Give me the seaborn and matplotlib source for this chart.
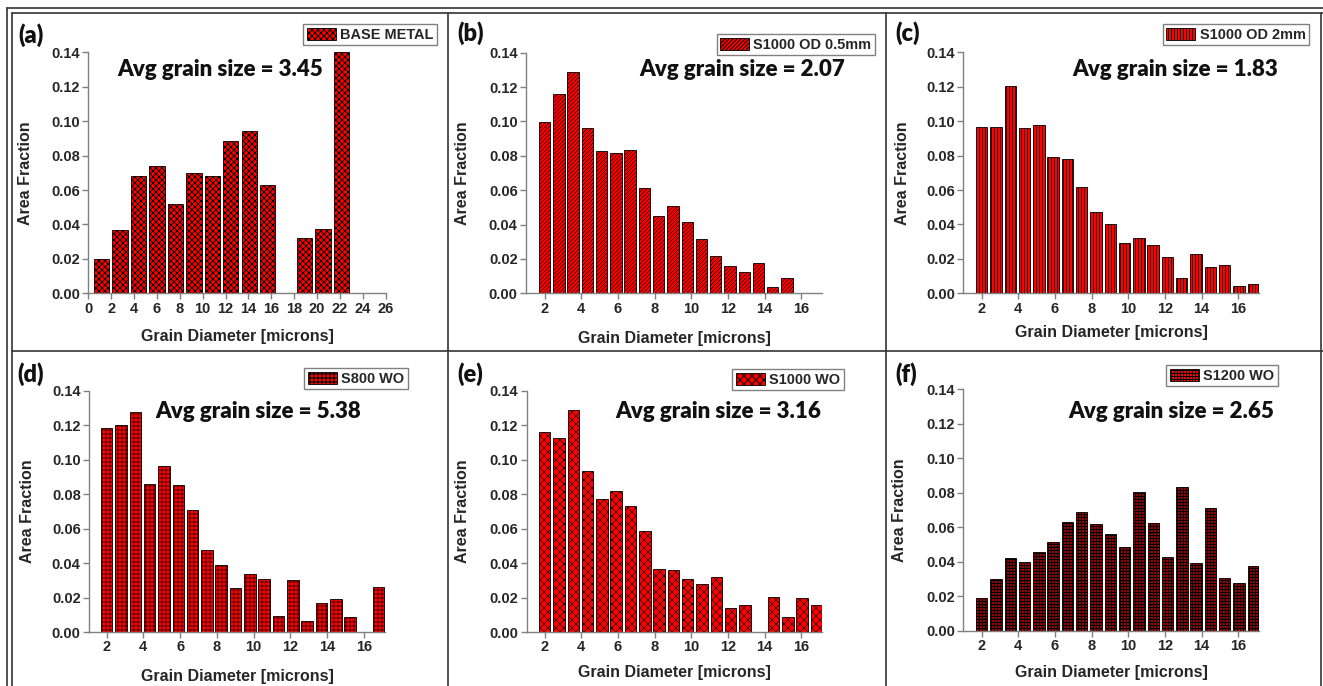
import matplotlib
matplotlib.use("Agg")
import matplotlib.pyplot as plt
import numpy as np
import pandas as pd
import seaborn as sns
from matplotlib.patches import Patch
from matplotlib.lines import Line2D

# ---------------- data ----------------
# grain diameter bin centres (microns)
diam_base = [1.17, 2.78, 4.39, 6.01, 7.62, 9.23, 10.84, 12.45, 14.07, 15.68,
             17.29, 18.90, 20.51, 22.13]
diam_od05 = [2.00, 2.78, 3.55, 4.33, 5.11, 5.89, 6.66, 7.44, 8.22, 8.99,
             9.77, 10.55, 11.32, 12.10, 12.88, 13.66, 14.43, 15.21]
diam_fine = [2.00, 2.78, 3.56, 4.34, 5.12, 5.90, 6.68, 7.46, 8.24, 9.02,
             9.80, 10.58, 11.36, 12.14, 12.92, 13.70, 14.48, 15.26, 16.04, 16.82]

# area fraction per bin
frac_base = [0.020, 0.037, 0.068, 0.074, 0.052, 0.070, 0.068, 0.0885, 0.0945,
             0.063, 0.0, 0.032, 0.0376, 0.140]
frac_od05 = [0.0997, 0.116, 0.129, 0.096, 0.0828, 0.0818, 0.0836, 0.0613,
             0.0448, 0.051, 0.0415, 0.0314, 0.0217, 0.0161, 0.0126, 0.0178,
             0.0039, 0.0089]
frac_od2 = [0.0968, 0.0968, 0.1204, 0.0958, 0.098, 0.0792, 0.078, 0.0616,
            0.0471, 0.0405, 0.029, 0.0321, 0.0279, 0.0209, 0.0091, 0.0228,
            0.0153, 0.0167, 0.0045, 0.0052]
frac_s800 = [0.1185, 0.1199, 0.1278, 0.0857, 0.0963, 0.0853, 0.071, 0.0476,
             0.0387, 0.0255, 0.0335, 0.0307, 0.0095, 0.0302, 0.0062, 0.017,
             0.0193, 0.0087, 0.0, 0.0263]
frac_s1000 = [0.1164, 0.1125, 0.129, 0.0933, 0.0773, 0.0821, 0.0732, 0.0585,
              0.0368, 0.0358, 0.0308, 0.0277, 0.032, 0.0137, 0.0155, 0.0,
              0.0201, 0.0087, 0.0198, 0.0159]
frac_s1200 = [0.0188, 0.0302, 0.042, 0.0398, 0.0456, 0.0512, 0.063, 0.0686,
              0.0617, 0.0563, 0.0485, 0.0806, 0.0623, 0.0427, 0.0833, 0.0391,
              0.0712, 0.0306, 0.0275, 0.0373]

panel_tags = ["(a)", "(b)", "(c)", "(d)", "(e)", "(f)"]
sample_names = ["BASE METAL", "S1000 OD 0.5mm", "S1000 OD 2mm",
                "S800 WO", "S1000 WO", "S1200 WO"]
avg_sizes = ["3.45", "2.07", "1.83", "5.38", "3.16", "2.65"]
y_ticks = [0.00, 0.02, 0.04, 0.06, 0.08, 0.10, 0.12, 0.14]
x_ticks_base = [0, 2, 4, 6, 8, 10, 12, 14, 16, 18, 20, 22, 24, 26]
x_ticks_fine = [2, 4, 6, 8, 10, 12, 14, 16]

diams = [diam_base, diam_od05, diam_fine, diam_fine, diam_fine, diam_fine]
fracs = [frac_base, frac_od05, frac_od2, frac_s800, frac_s1000, frac_s1200]

# ---------------- layout / style ----------------
W, H = 1323, 686
DPI = 72            # hatch cell = 72 px, so hatch spacing lands on whole pixels
K = 100 / DPI       # sizes below are given for a 100-dpi canvas

sns.set_theme(style="white")
plt.rcParams["font.family"] = ["Liberation Sans", "DejaVu Sans"]
plt.rcParams["hatch.color"] = "black"

hatches = ["xxxx", "//////", "||||", "+++", "xxx", "++++"]
hatch_lw = [0.9, 0.6, 0.8, 0.6, 0.6, 1.4]
# axes boxes in pixels: left, top, right, bottom
boxes = [(88.3, 52.3, 385.7, 293.3), (526, 52.7, 822.3, 293.3),
         (963.3, 52.3, 1259.3, 293.3), (89, 390.7, 385, 632),
         (526.7, 391, 822.3, 632), (963.3, 389.3, 1259, 630.7)]
xlims = [(0, 26), (0.98, 17.14), (1.0, 17.15), (1.04, 17.16),
         (1.02, 17.14), (1.0, 17.13)]
bar_width = [0.83, 0.8, 0.8, 0.8, 0.8, 0.8]
tag_pos = [(30.7, 34.7), (470.8, 33), (907.5, 33), (30.7, 374), (470, 374), (905.7, 374)]
avg_pos = [(220, 70), (742.5, 69), (1175.3, 69), (258, 411), (718.5, 411), (1171.7, 411.7)]
# legend upper-right corner in pixels
leg_pos = [(437, 24), (875, 34), (1309, 24), (408, 368), (844, 369), (1278, 365)]
xlabel_y = [337, 338, 333, 677, 672, 673]
ylabel_x = [26, 462.7, 902.7, 28, 462.7, 899]

fig = plt.figure(figsize=(W / DPI, H / DPI), dpi=DPI)
fig.patch.set_facecolor("white")

def fx(x):
    return x / W

def fy(y):
    return 1 - y / H

grey = "#808080"
for i in range(6):
    l, t, r, b = boxes[i]
    ax = fig.add_axes([fx(l), fy(b), fx(r) - fx(l), fy(t) - fy(b)])
    df = pd.DataFrame({"diameter": diams[i], "fraction": fracs[i]})
    df = df[df["fraction"] > 0]
    with plt.rc_context({"hatch.linewidth": hatch_lw[i]}):
        sns.barplot(data=df, x="diameter", y="fraction", native_scale=True,
                    errorbar=None, color="red", saturation=1, width=bar_width[i],
                    edgecolor="black", linewidth=0.6 * K, hatch=hatches[i], ax=ax)
        handle = Patch(facecolor="red", edgecolor="black", hatch=hatches[i],
                       linewidth=0.6 * K)
    ax.set_facecolor("white")
    ax.set_xlim(*xlims[i])
    ax.set_ylim(0, 0.14)
    ax.set_yticks(y_ticks)
    ax.set_yticklabels([f"{v:.2f}" for v in y_ticks])
    xt = x_ticks_base if i == 0 else x_ticks_fine
    ax.set_xticks(xt)
    ax.set_xticklabels([str(v) for v in xt])
    for side in ["top", "right"]:
        ax.spines[side].set_visible(False)
    for side in ["left", "bottom"]:
        ax.spines[side].set_color(grey)
        ax.spines[side].set_linewidth(1.0 * K)
    ax.tick_params(axis="both", direction="out", length=4 * K, width=1 * K,
                   color=grey, labelsize=10.5 * K, pad=2 * K, left=True, bottom=True)
    for lab in ax.get_xticklabels() + ax.get_yticklabels():
        lab.set_fontweight("bold")
    ax.set_xlabel("Grain Diameter [microns]", fontsize=11.5 * K, fontweight="bold",
                  va="center")
    ax.set_ylabel("Area Fraction", fontsize=11.5 * K, fontweight="bold", va="center")
    # axis-label placement in figure pixels
    inv = ax.transAxes.inverted()
    xl = fig.transFigure.transform((fx((l + r) / 2), fy(xlabel_y[i])))
    ax.xaxis.set_label_coords(*inv.transform(xl))
    yl = fig.transFigure.transform((fx(ylabel_x[i]), fy((t + b) / 2)))
    ax.yaxis.set_label_coords(*inv.transform(yl))

    lx, ly = leg_pos[i]
    leg = ax.legend([handle], [sample_names[i]], loc="upper right",
                    bbox_to_anchor=(fx(lx), fy(ly)), bbox_transform=fig.transFigure,
                    frameon=True, fancybox=False, framealpha=1, borderaxespad=0,
                    borderpad=0.25, handlelength=2.0, handleheight=0.9,
                    handletextpad=0.3, prop={"weight": "bold", "size": 10.4 * K,
                                             "family": "Liberation Sans"})
    leg.get_frame().set_edgecolor(grey)
    leg.get_frame().set_linewidth(1.0 * K)

    fig.text(fx(tag_pos[i][0]), fy(tag_pos[i][1]), panel_tags[i], family="Lato",
             fontweight="heavy", fontsize=17 * K, ha="center", va="center",
             color="#111111")
    fig.text(fx(avg_pos[i][0]), fy(avg_pos[i][1]), f"Avg grain size = {avg_sizes[i]}",
             family="Lato", fontweight="heavy", fontsize=16 * K, ha="center",
             va="center", color="#111111")

# panel frame lines
frame_col = "#333333"
segments = [
    ((7, 8), (W, 8)), ((12, 13), (W, 13)),
    ((7, 8), (7, H)), ((12, 13), (12, H)),
    ((448, 13), (448, H)), ((886, 13), (886, H)), ((1321, 13), (1321, H)),
    ((12, 351), (W, 351)),
]
for (x0, y0), (x1, y1) in segments:
    fig.add_artist(Line2D([fx(x0), fx(x1)], [fy(y0), fy(y1)], color=frame_col,
                          lw=1.2 * K, transform=fig.transFigure))

fig.savefig("out.png", dpi=DPI, facecolor="white")
